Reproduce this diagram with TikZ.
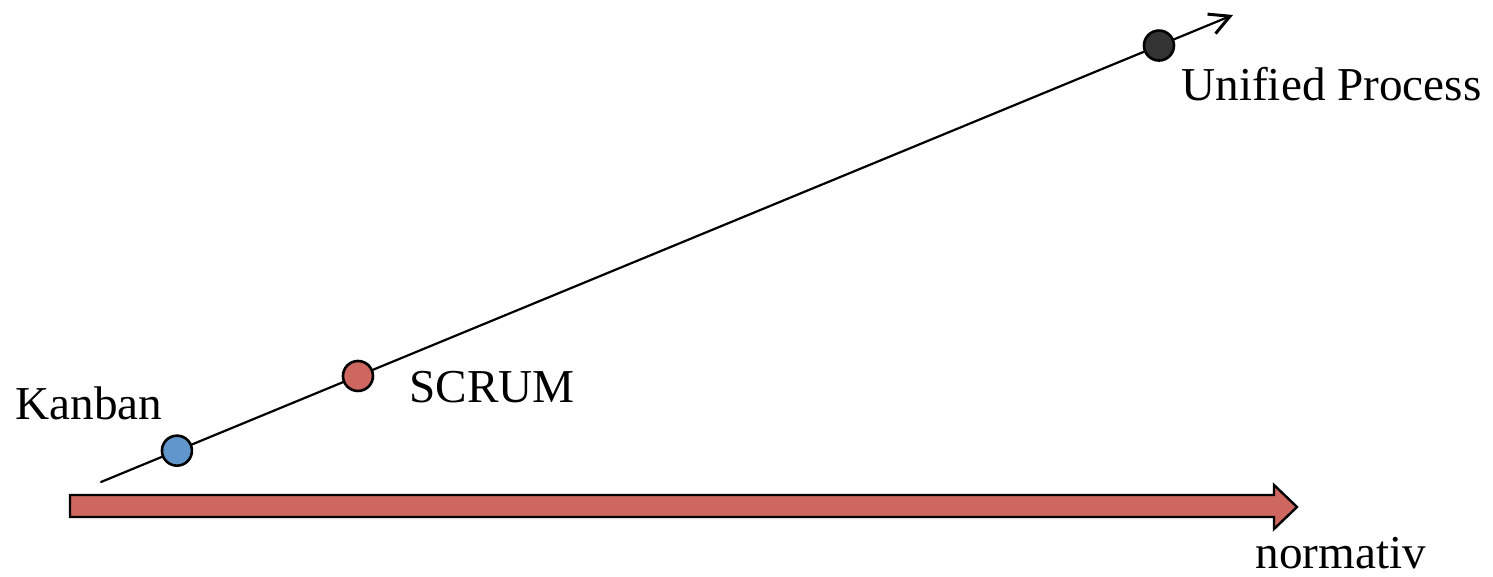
\documentclass[tikz,border=0pt]{standalone}
\usepackage{fontspec}
\setmainfont{Liberation Serif}
\usepackage{tikz}
\usetikzlibrary{arrows.meta,calc}
\definecolor{dotblue}{HTML}{6096CB}
\definecolor{dotred}{HTML}{CD6760}
\definecolor{dotdark}{HTML}{333333}
\tikzset{
  every picture/.style={line join=round, line cap=round},
  dot/.style={circle, draw=black, line width=1.3pt, inner sep=0pt, minimum size=15pt},
  lbl/.style={anchor=base west, inner sep=0pt, font=\fontsize{23.6}{28}\selectfont},
}

\begin{document}
\begin{tikzpicture}[x=0.5pt,y=0.5pt]
\useasboundingbox (0,0) rectangle (1493,577);
% big axis arrow
\draw[fill=dotred, line width=1.2pt, line join=miter]
(70,82)--(1274,82)--(1274,92)--(1297,70)--(1274,48)--(1274,60)--(70,60)--cycle;
\node[lbl] (normativ) at (1255,8) {normativ};
% thin axis with the methods
\coordinate (start) at (101,95);
\coordinate (tip) at (1233,562);
\draw[-{Straight Barb[length=10pt,width=10.5pt,line width=1.5pt]}, line width=1.1pt] (start)--(tip);
\node[dot, fill=dotblue] (kanban) at ($(start)!0.0671!(tip)$) {};
\node[dot, fill=dotred] (scrum) at ($(start)!0.227!(tip)$) {};
\node[dot, fill=dotdark] (up) at ($(start)!0.9346!(tip)$) {};
\node[lbl] (kanbantxt) at (15,157) {Kanban};
\node[lbl] (scrumtxt) at (409,174) {SCRUM};
\node[lbl] (uptxt) at (1181,476) {Unified Process};
\end{tikzpicture}
\end{document}
